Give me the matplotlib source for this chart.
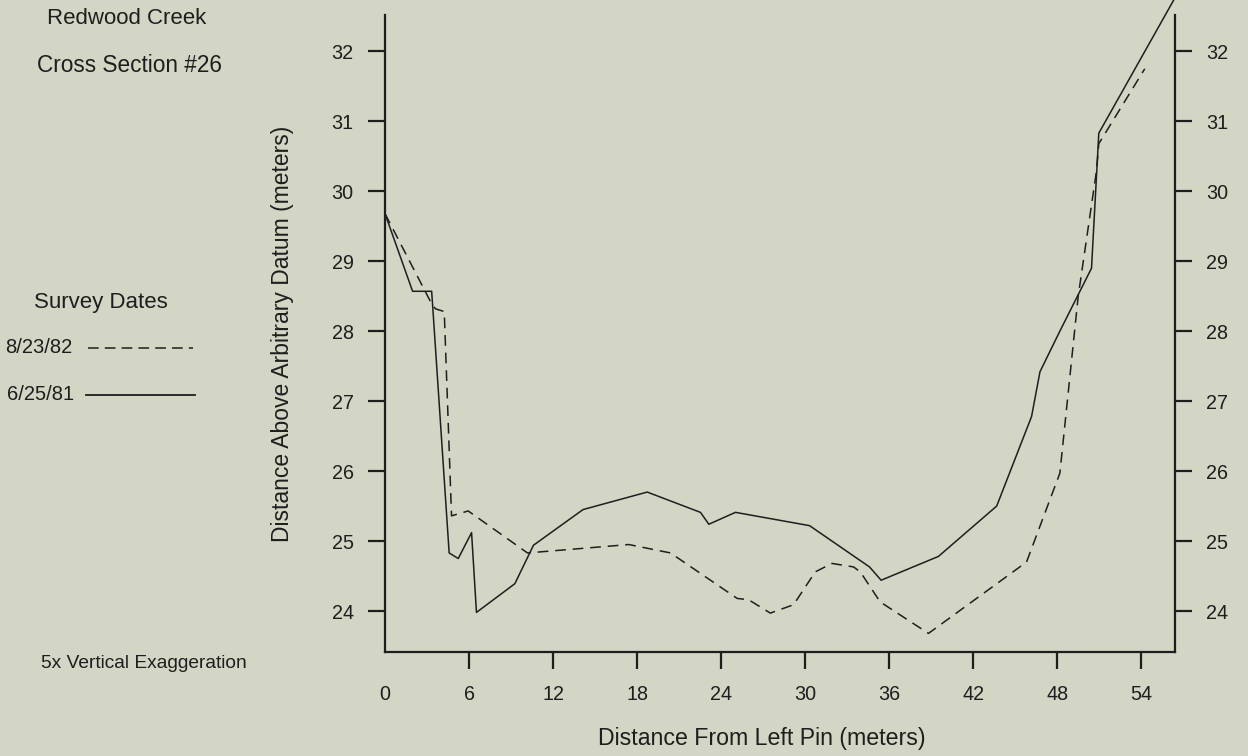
import matplotlib
matplotlib.use("Agg")
import matplotlib.pyplot as plt
from matplotlib.lines import Line2D

# survey of 6/25/81 (solid)
x_81 = [0, 1.97, 3.33, 3.40, 4.58, 5.23, 6.18, 6.53, 9.27, 10.6, 14.14, 18.72,
        22.52, 23.12, 25.02, 30.31, 34.59, 35.42, 39.51, 43.67, 46.16, 46.76,
        48.18, 50.44, 50.96, 56.3]
y_81 = [29.68, 28.57, 28.57, 28.37, 24.83, 24.75, 25.12, 23.98, 24.39, 24.94,
        25.45, 25.70, 25.41, 25.24, 25.41, 25.22, 24.63, 24.44, 24.78, 25.50,
        26.78, 27.42, 28.0, 28.90, 30.83, 32.73]

# survey of 8/23/82 (dashed)
x_82 = [0, 3.28, 3.6, 4.23, 4.75, 5.94, 10.17, 17.41, 20.38, 25.14, 25.97,
        27.51, 29.17, 30.72, 31.91, 33.45, 33.93, 35.35, 38.8, 45.8, 48.18,
        49.49, 50.8, 50.96, 54.24]
y_82 = [29.68, 28.41, 28.32, 28.28, 25.36, 25.43, 24.83, 24.95, 24.83, 24.18,
        24.16, 23.97, 24.09, 24.56, 24.68, 24.63, 24.56, 24.13, 23.68, 24.70,
        25.97, 28.5, 30.30, 30.68, 31.75]

x_ticks = [0, 6, 12, 18, 24, 30, 36, 42, 48, 54]
y_ticks = [24, 25, 26, 27, 28, 29, 30, 31, 32]

bg = '#d3d5c5'
ink = '#1e1e1e'
plt.rcParams['font.family'] = ['Liberation Sans', 'DejaVu Sans']

W, H = 1248, 756
fig = plt.figure(figsize=(W / 100, H / 100), dpi=100, facecolor=bg)
ax = fig.add_axes([385 / W, 1 - 652 / H, (1175 - 385) / W, (652 - 15) / H])
ax.set_facecolor(bg)

ax.plot(x_81, y_81, color=ink, lw=1.1, clip_on=False)
ax.plot(x_82, y_82, color=ink, lw=1.1, dashes=(7, 4.5))

ax.set_xlim(0, 56.4)
ax.set_ylim(23.414, 32.519)
ax.spines['top'].set_visible(False)
for s in ['left', 'right', 'bottom']:
    ax.spines[s].set_linewidth(1.6)
    ax.spines[s].set_color(ink)

ax.set_xticks(x_ticks)
ax.set_yticks(y_ticks)
ax.tick_params(axis='both', direction='out', length=12.5, width=1.6,
               color=ink, labelcolor=ink, labelsize=14.2)
ax.tick_params(axis='x', pad=11)
ax.tick_params(axis='y', pad=10, left=True, right=True,
               labelleft=True, labelright=True)
ax.xaxis.get_major_ticks()[0].tick1line.set_visible(False)

fig.text(762 / W, 1 - 739 / H, 'Distance From Left Pin (meters)',
         ha='center', va='center', fontsize=16.7, color=ink)
fig.text(282 / W, 1 - 334 / H, 'Distance Above Arbitrary Datum (meters)',
         ha='center', va='center', rotation=90, fontsize=16.5, color=ink)

fig.text(47 / W, 1 - 18.5 / H, 'Redwood Creek', ha='left', va='center',
         fontsize=16, color=ink)
fig.text(37 / W, 1 - 66 / H, 'Cross Section #26', ha='left', va='center',
         fontsize=16.3, color=ink)
fig.text(34 / W, 1 - 302 / H, 'Survey Dates', ha='left', va='center',
         fontsize=16, color=ink)
fig.text(5 / W, 1 - 348 / H, '8/23/82', ha='left', va='center',
         fontsize=14.5, color=ink)
fig.text(7 / W, 1 - 395 / H, '6/25/81', ha='left', va='center',
         fontsize=14.5, color=ink)
fig.add_artist(Line2D([88 / W, 193 / W], [1 - 348 / H, 1 - 348 / H],
                      color=ink, lw=1.1, dashes=(7, 4)))
fig.add_artist(Line2D([86 / W, 195 / W], [1 - 395 / H, 1 - 395 / H],
                      color=ink, lw=1.3))
fig.text(41 / W, 1 - 664 / H, '5x Vertical Exaggeration', ha='left',
         va='center', fontsize=13.8, color=ink)

fig.savefig('out.png', dpi=100, facecolor=bg)
